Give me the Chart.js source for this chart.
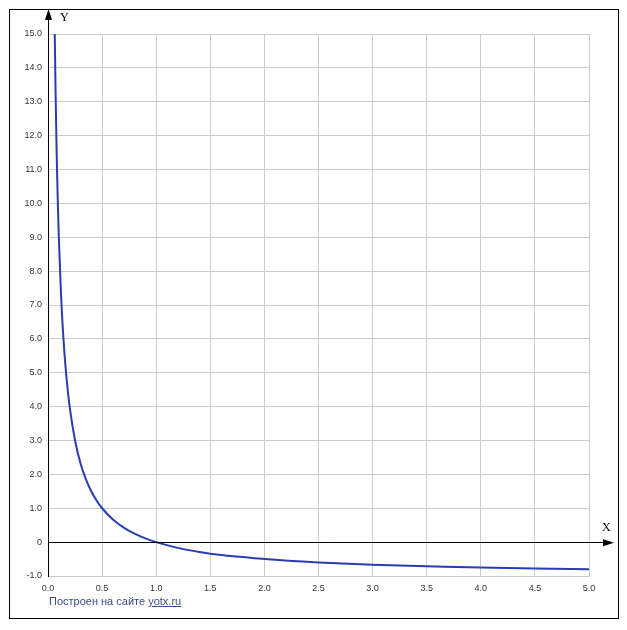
<!DOCTYPE html>
<html>
<head>
<meta charset="utf-8">
<script src="https://cdn.jsdelivr.net/npm/chart.js@4/dist/chart.umd.min.js"></script>
<style>
    body { margin: 0; background: #fff; }
    #wrap { position: relative; width: 627px; height: 630px; }
    #frame { position: absolute; left: 9px; top: 9px; width: 608px; height: 608px; border: 1px solid #000; pointer-events: none; }
    #credit { position: absolute; left: 49px; top: 595px; font: 11px "Liberation Sans", Arial, sans-serif; color: #3a4d8c; }
    #credit a { color: #3a4d8c; }
</style>
</head>
<body>
<div id="wrap">
    <canvas id="chart" width="627" height="630"></canvas>
    <div id="frame"></div>
    <div id="credit">Построен на сайте <a href="#">yotx.ru</a></div>
</div>
<script>
// points
const xs = [0.0625, 0.07, 0.08, 0.09, 0.1, 0.12, 0.14, 0.16, 0.18, 0.2, 0.25, 0.3, 0.35, 0.4, 0.45, 0.5, 0.6, 0.7, 0.8, 0.9, 1.0, 1.2, 1.4, 1.6, 1.8, 2.0, 2.5, 3.0, 3.5, 4.0, 4.5, 5.0];
const ys = [15.0, 13.29, 11.5, 10.11, 9.0, 7.33, 6.14, 5.25, 4.56, 4.0, 3.0, 2.33, 1.86, 1.5, 1.22, 1.0, 0.67, 0.43, 0.25, 0.11, 0.0, -0.17, -0.29, -0.38, -0.44, -0.5, -0.6, -0.67, -0.71, -0.75, -0.78, -0.8];
const xLabel = "X";
const yLabel = "Y";

const tickFont = { family: "'Liberation Sans', Arial, sans-serif", size: 9 };

// black axes with arrows + axis letters
const axesPlugin = {
    id: "axes",
    afterDatasetsDraw(chart) {
        const ctx = chart.ctx;
        const x = chart.scales.x, y = chart.scales.y;
        const x0 = x.getPixelForValue(0);
        const y0 = y.getPixelForValue(0);
        const right = chart.chartArea.right;
        const top = chart.chartArea.top;
        ctx.save();
        ctx.strokeStyle = "#000";
        ctx.fillStyle = "#000";
        ctx.lineWidth = 1;
        ctx.beginPath();
        ctx.moveTo(Math.round(x0) + 0.5, chart.chartArea.bottom);
        ctx.lineTo(Math.round(x0) + 0.5, top - 22);
        ctx.moveTo(x0, Math.round(y0) + 0.5);
        ctx.lineTo(right + 22, Math.round(y0) + 0.5);
        ctx.stroke();
        // arrow heads
        ctx.beginPath();
        ctx.moveTo(x0 + 0.5, top - 25);
        ctx.lineTo(x0 - 3, top - 14);
        ctx.lineTo(x0 + 4, top - 14);
        ctx.closePath();
        ctx.fill();
        ctx.beginPath();
        ctx.moveTo(right + 25, y0 + 0.5);
        ctx.lineTo(right + 14, y0 - 3);
        ctx.lineTo(right + 14, y0 + 4);
        ctx.closePath();
        ctx.fill();
        ctx.font = "12px 'Liberation Serif', 'Times New Roman', serif";
        ctx.textBaseline = "alphabetic";
        ctx.fillText(yLabel, x0 + 12, top - 13);
        ctx.fillText(xLabel, right + 13, y0 - 11);
        ctx.restore();
    }
};

new Chart(document.getElementById("chart"), {
    type: "scatter",
    data: {
        datasets: [{
            data: xs.map((v, i) => ({ x: v, y: ys[i] })),
            showLine: true,
            borderColor: "#2a3db0",
            borderWidth: 2,
            pointRadius: 0,
            cubicInterpolationMode: "monotone",
            fill: false
        }]
    },
    options: {
        responsive: false,
        animation: false,
        layout: { padding: { left: 0, top: 34, right: 38, bottom: 0 } },
        plugins: { legend: { display: false }, tooltip: { enabled: false } },
        scales: {
            x: {
                type: "linear",
                min: 0,
                max: 5,
                ticks: {
                    stepSize: 0.5,
                    color: "#333",
                    font: tickFont,
                    padding: 7,
                    maxRotation: 0,
                    callback: (v) => v.toFixed(1)
                },
                grid: { color: "#cccccc", drawTicks: false },
                border: { color: "#cccccc" },
                afterFit: (s) => { s.height = 54; }
            },
            y: {
                min: -1,
                max: 15,
                ticks: {
                    stepSize: 1,
                    color: "#333",
                    font: tickFont,
                    padding: 6,
                    callback: (v) => v === 0 ? "0" : v.toFixed(1)
                },
                grid: { color: "#cccccc", drawTicks: false },
                border: { color: "#000" },
                afterFit: (s) => { s.width = 48; }
            }
        }
    },
    plugins: [axesPlugin]
});
</script>
</body>
</html>
